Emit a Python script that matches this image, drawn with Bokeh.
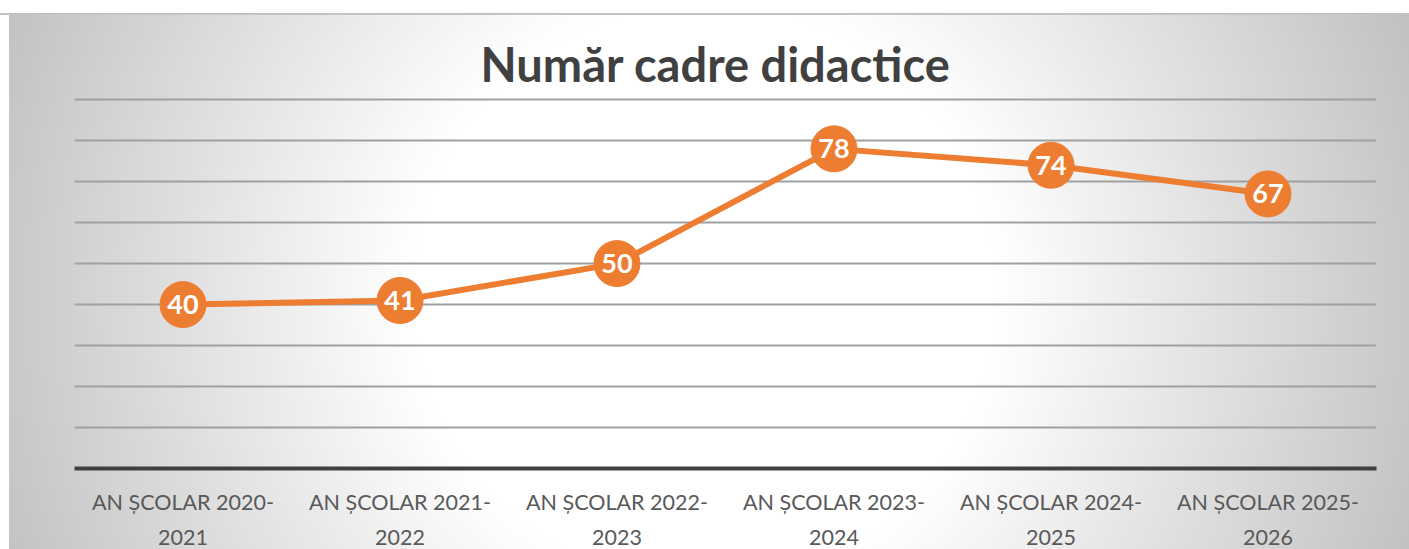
from bokeh.plotting import figure
from bokeh.models import ColumnDataSource, SingleIntervalTicker, Range1d
from bokeh.core.properties import value
from bokeh.embed import file_html
from bokeh.resources import INLINE

title_text = "Număr cadre didactice"
categories = ["AN ȘCOLAR 2020-\n2021", "AN ȘCOLAR 2021-\n2022", "AN ȘCOLAR 2022-\n2023",
              "AN ȘCOLAR 2023-\n2024", "AN ȘCOLAR 2024-\n2025", "AN ȘCOLAR 2025-\n2026"]
teachers = [40, 41, 50, 78, 74, 67]
labels = [str(v) for v in teachers]

src = ColumnDataSource(dict(x=categories, y=teachers, label=labels))

p = figure(x_range=categories, y_range=Range1d(0, 92), width=1409, height=576,
           output_backend="svg", toolbar_location=None, title=title_text,
           min_border_left=74, min_border_right=33, min_border_top=91, min_border_bottom=108)
p.styles = {"margin-bottom": "-27px", "background-image": (
    "linear-gradient(to bottom, #ffffff 0px, #ffffff 13px, #bdbdbd 13px, #c8c8c8 15px, rgba(255,255,255,0) 15px),"
    "linear-gradient(to right, #ffffff 0px, #ffffff 9px, rgba(255,255,255,0) 9px),"
    "radial-gradient(circle farthest-corner at 50% 51%, #ffffff 38%, #c0c0c0 100%)")}
p.background_fill_color = None
p.border_fill_color = None
p.outline_line_color = None

p.title.align = "left"
p.title.offset = 406
p.title.standoff = 0
p.title.text_font = "Lato"
p.title.text_font_style = "bold"
p.title.text_font_size = "47px"
p.title.text_color = "#404040"

p.yaxis.visible = False
p.ygrid.ticker = SingleIntervalTicker(interval=10)
p.ygrid.grid_line_color = "#a0a0a0"
p.ygrid.grid_line_width = 1.8
p.xgrid.grid_line_color = None

p.xaxis.axis_line_color = "#404040"
p.xaxis.axis_line_width = 4
p.xaxis.major_tick_line_color = None
p.xaxis.minor_tick_line_color = None
p.xaxis.major_label_text_font = "Lato"
p.xaxis.major_label_text_font_size = "21.5px"
p.xaxis.major_label_text_line_height = 1.35
p.xaxis.major_label_text_color = "#595959"
p.xaxis.major_label_standoff = 14

p.line("x", "y", source=src, line_color="#ED7D31", line_width=6)
p.scatter("x", "y", source=src, size=46, fill_color="#ED7D31", line_color="#ED7D31")
p.text("x", "y", text="label", source=src, text_align="center", text_baseline="middle",
       text_color="white", text_font=value("Lato"), text_font_style="bold", text_font_size="27px")

open("out.html", "w").write(file_html(p, INLINE))
